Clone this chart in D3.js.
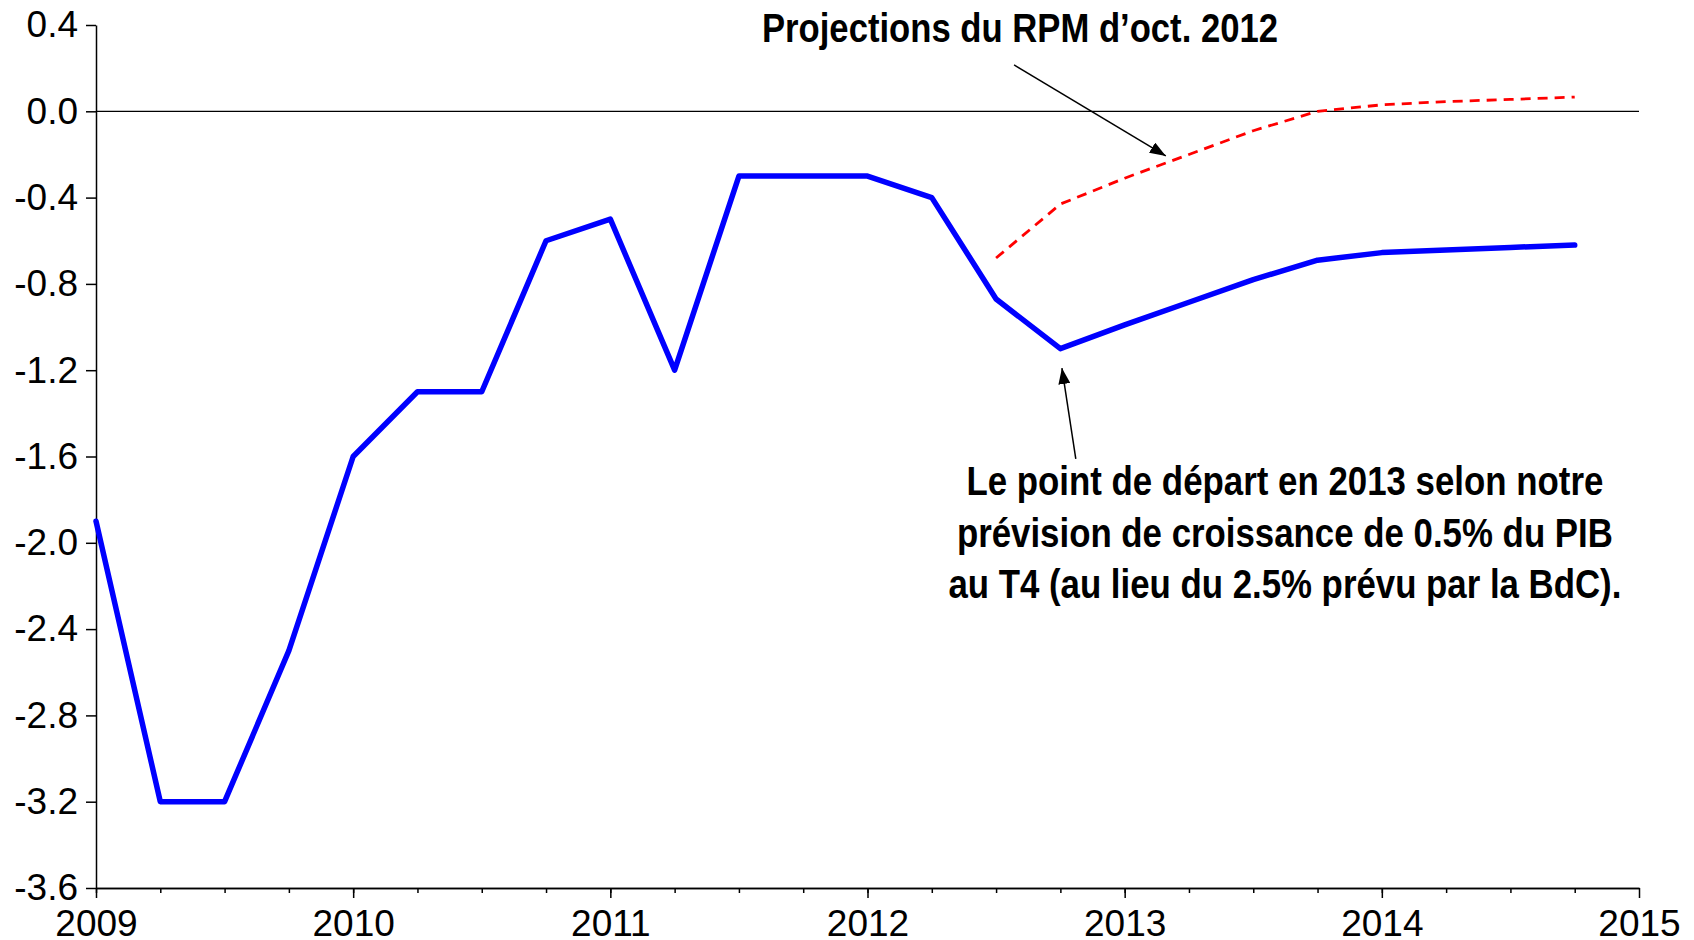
<!DOCTYPE html>
<html>
<head>
<meta charset="utf-8">
<script src="https://cdn.jsdelivr.net/npm/d3@7"></script>
<style>
  body { margin: 0; background: #fff; }
  text { font-family: "Liberation Sans", Arial, Helvetica, sans-serif; }
  .axis path, .axis line { stroke: #000; stroke-width: 1.5; }
</style>
</head>
<body>
<script>
// quarterly data, 2009T1 .. 2014T4
var quarters = d3.range(2009, 2015, 0.25);
var ecartPrevu = [-1.9, -3.2, -3.2, -2.5, -1.6, -1.3, -1.3, -0.6,
                  -0.5, -1.2, -0.3, -0.3, -0.3, -0.4, -0.87, -1.1,
                  -0.99, -0.885, -0.78, -0.69, -0.655, -0.643, -0.631, -0.62];
// RPM oct. 2012 projection starts at 2012T3
var rpmStart = 14;
var ecartRPM = [-0.68, -0.43, -0.31, -0.2, -0.09, 0.0, 0.03, 0.045, 0.055, 0.066];

var yTicks = [0.4, 0.0, -0.4, -0.8, -1.2, -1.6, -2.0, -2.4, -2.8, -3.2, -3.6];
var yearTicks = [2009, 2010, 2011, 2012, 2013, 2014, 2015];

var titleRPM = "Projections du RPM d\u2019oct. 2012";
var noteLines = ["Le point de d\u00e9part en 2013 selon notre",
                 "pr\u00e9vision de croissance de 0.5% du PIB",
                 "au T4 (au lieu du 2.5% pr\u00e9vu par la BdC)."];

var w = 1694, h = 940;
var mLeft = 96, mRight = 1639, mTop = 25, mBottom = 888;

var x = d3.scaleLinear().domain([2009, 2015]).range([mLeft, mRight]);
var y = d3.scaleLinear().domain([-3.6, 0.4]).range([mBottom, mTop]);

var svg = d3.select("body").append("svg")
  .attr("width", w)
  .attr("height", h);

svg.append("defs").append("marker")
  .attr("id", "head")
  .attr("viewBox", "0 0 16 12")
  .attr("refX", 16)
  .attr("refY", 6)
  .attr("markerUnits", "userSpaceOnUse")
  .attr("markerWidth", 16)
  .attr("markerHeight", 12)
  .attr("orient", "auto")
  .append("path")
  .attr("d", "M0,0L16,6L0,12Z")
  .attr("fill", "#000");

// zero line
svg.append("line")
  .attr("x1", x(2009)).attr("x2", x(2015))
  .attr("y1", y(0)).attr("y2", y(0))
  .attr("stroke", "#000")
  .attr("stroke-width", 1.2);

// y axis
svg.append("g")
  .attr("class", "axis")
  .attr("transform", "translate(" + mLeft + ",0)")
  .call(d3.axisLeft(y)
    .tickValues(yTicks)
    .tickSize(10)
    .tickSizeOuter(0)
    .tickPadding(8)
    .tickFormat(function(d) { return d.toFixed(1); }));

// x axis: quarter ticks then year ticks with labels
svg.append("g")
  .attr("class", "axis")
  .attr("transform", "translate(0," + mBottom + ")")
  .call(d3.axisBottom(x)
    .tickValues(quarters)
    .tickSize(5)
    .tickSizeOuter(0)
    .tickFormat(""));

svg.append("g")
  .attr("class", "axis")
  .attr("transform", "translate(0," + mBottom + ")")
  .call(d3.axisBottom(x)
    .tickValues(yearTicks)
    .tickSize(10)
    .tickSizeOuter(0)
    .tickPadding(12)
    .tickFormat(d3.format("d")));

svg.selectAll(".axis text")
  .attr("fill", "#000")
  .style("font-size", "37px");

var line = d3.line()
  .x(function(d) { return x(d.t); })
  .y(function(d) { return y(d.v); });

var blue = ecartPrevu.map(function(v, i) { return { t: quarters[i], v: v }; });
var red = ecartRPM.map(function(v, i) { return { t: quarters[rpmStart + i], v: v }; });

svg.append("path")
  .datum(red)
  .attr("d", line)
  .attr("fill", "none")
  .attr("stroke", "#ff0000")
  .attr("stroke-width", 2.8)
  .attr("stroke-dasharray", "10,7");

svg.append("path")
  .datum(blue)
  .attr("d", line)
  .attr("fill", "none")
  .attr("stroke", "#0000ff")
  .attr("stroke-width", 5.5)
  .attr("stroke-linejoin", "round")
  .attr("stroke-linecap", "round");

// annotations
svg.append("text")
  .attr("x", x(2012.593))
  .attr("y", y(0.32))
  .attr("text-anchor", "middle")
  .attr("textLength", 516)
  .attr("lengthAdjust", "spacingAndGlyphs")
  .style("font-size", "40px")
  .style("font-weight", "bold")
  .text(titleRPM);

svg.append("line")
  .attr("x1", x(2012.57)).attr("y1", y(0.215))
  .attr("x2", x(2013.16)).attr("y2", y(-0.207))
  .attr("stroke", "#000")
  .attr("stroke-width", 1.5)
  .attr("marker-end", "url(#head)");

svg.append("line")
  .attr("x1", x(2012.81)).attr("y1", y(-1.611))
  .attr("x2", x(2012.756)).attr("y2", y(-1.19))
  .attr("stroke", "#000")
  .attr("stroke-width", 1.5)
  .attr("marker-end", "url(#head)");

var noteWidths = [637, 656, 673];
var noteY = [-1.778, -2.019, -2.255];

svg.selectAll(".note")
  .data(noteLines)
  .enter().append("text")
  .attr("class", "note")
  .attr("x", x(2013.623))
  .attr("y", function(d, i) { return y(noteY[i]); })
  .attr("text-anchor", "middle")
  .attr("textLength", function(d, i) { return noteWidths[i]; })
  .attr("lengthAdjust", "spacingAndGlyphs")
  .style("font-size", "40px")
  .style("font-weight", "bold")
  .text(function(d) { return d; });
</script>
</body>
</html>
